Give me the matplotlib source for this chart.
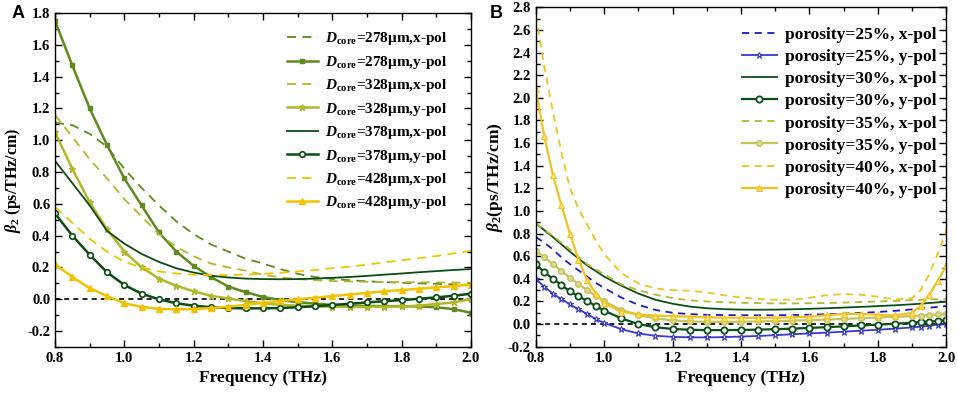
import matplotlib
matplotlib.use('Agg')
import matplotlib.pyplot as plt
from matplotlib.ticker import MultipleLocator, FormatStrFormatter

plt.rcParams['font.family'] = ['Liberation Serif', 'DejaVu Serif']
plt.rcParams['font.weight'] = 'bold'
plt.rcParams['mathtext.fontset'] = 'custom'
plt.rcParams['mathtext.rm'] = 'Liberation Serif:bold'
plt.rcParams['mathtext.it'] = 'Liberation Serif:bold:italic'
plt.rcParams['mathtext.bf'] = 'Liberation Serif:bold'

# ---- panel A data: core diameter sweep ----
freq_a = [0.8, 0.85, 0.9, 0.95, 1.0, 1.05, 1.1, 1.15, 1.2, 1.25, 1.3, 1.35, 1.4,
          1.45, 1.5, 1.55, 1.6, 1.65, 1.7, 1.75, 1.8, 1.85, 1.9, 1.95, 2.0]

d278_x = [1.11, 1.095, 1.04, 0.96, 0.82, 0.70, 0.59, 0.49, 0.41, 0.345, 0.30, 0.255, 0.225,
          0.19, 0.16, 0.14, 0.128, 0.12, 0.113, 0.108, 0.104, 0.10, 0.097, 0.094, 0.09]
d278_y = [1.75, 1.47, 1.20, 0.97, 0.76, 0.59, 0.42, 0.30, 0.21, 0.14, 0.08, 0.045, 0.015,
          -0.005, -0.018, -0.028, -0.035, -0.04, -0.042, -0.043, -0.043, -0.045, -0.05, -0.062, -0.085]
d328_x = [1.16, 1.02, 0.88, 0.76, 0.63, 0.52, 0.41, 0.33, 0.27, 0.225, 0.20, 0.18, 0.155,
          0.138, 0.127, 0.12, 0.115, 0.112, 0.11, 0.109, 0.108, 0.107, 0.106, 0.105, 0.105]
d328_y = [1.05, 0.82, 0.61, 0.44, 0.30, 0.20, 0.13, 0.085, 0.05, 0.022, 0.005, -0.012, -0.025,
          -0.035, -0.04, -0.045, -0.047, -0.048, -0.048, -0.047, -0.045, -0.04, -0.03, -0.02, 0.0]
d378_x = [0.87, 0.73, 0.59, 0.43, 0.35, 0.285, 0.235, 0.195, 0.168, 0.148, 0.137, 0.13, 0.127,
          0.126, 0.127, 0.13, 0.135, 0.14, 0.147, 0.155, 0.162, 0.17, 0.177, 0.184, 0.19]
d378_y = [0.54, 0.40, 0.28, 0.17, 0.09, 0.035, 0.0, -0.025, -0.04, -0.05, -0.055, -0.057, -0.057,
          -0.055, -0.05, -0.044, -0.036, -0.028, -0.02, -0.012, -0.005, 0.003, 0.012, 0.022, 0.035]
d428_x = [0.58, 0.48, 0.38, 0.30, 0.235, 0.20, 0.175, 0.162, 0.155, 0.152, 0.152, 0.155, 0.16,
          0.167, 0.175, 0.184, 0.195, 0.205, 0.218, 0.232, 0.245, 0.258, 0.272, 0.288, 0.305]
d428_y = [0.22, 0.14, 0.07, 0.02, -0.025, -0.048, -0.06, -0.063, -0.062, -0.055, -0.047, -0.035, -0.022,
          -0.01, 0.0, 0.01, 0.02, 0.03, 0.04, 0.05, 0.058, 0.066, 0.075, 0.083, 0.092]

# ---- panel B data: porosity sweep ----
freq_b = [0.8, 0.825, 0.85, 0.875, 0.9, 0.925, 0.95, 0.975, 1.0, 1.05, 1.1, 1.15, 1.2, 1.25,
          1.3, 1.35, 1.4, 1.45, 1.5, 1.55, 1.6, 1.65, 1.7, 1.75, 1.8, 1.85, 1.9, 1.925,
          1.95, 1.975, 2.0]

p25_x = [0.77, 0.72, 0.66, 0.59, 0.53, 0.475, 0.42, 0.365, 0.32, 0.235, 0.17, 0.125, 0.10, 0.088,
         0.082, 0.08, 0.078, 0.078, 0.078, 0.08, 0.083, 0.087, 0.092, 0.099, 0.107, 0.117, 0.13, 0.137,
         0.145, 0.152, 0.16]
p25_y = [0.40, 0.33, 0.27, 0.22, 0.175, 0.13, 0.09, 0.045, 0.01, -0.045, -0.083, -0.103, -0.113, -0.117,
         -0.118, -0.115, -0.11, -0.105, -0.098, -0.09, -0.083, -0.075, -0.067, -0.058, -0.05, -0.04, -0.03, -0.022,
         -0.015, -0.005, 0.005]
p30_x = [0.89, 0.83, 0.77, 0.705, 0.64, 0.58, 0.52, 0.47, 0.42, 0.34, 0.27, 0.215, 0.18, 0.155,
         0.14, 0.132, 0.128, 0.127, 0.128, 0.131, 0.135, 0.14, 0.146, 0.152, 0.159, 0.166, 0.175, 0.18,
         0.186, 0.192, 0.198]
p30_y = [0.53, 0.46, 0.40, 0.345, 0.29, 0.245, 0.205, 0.16, 0.12, 0.05, 0.0, -0.028, -0.043, -0.05,
         -0.053, -0.053, -0.052, -0.049, -0.045, -0.04, -0.034, -0.027, -0.02, -0.012, -0.005, 0.003, 0.012, 0.017,
         0.022, 0.027, 0.033]
p35_x = [0.89, 0.835, 0.78, 0.72, 0.66, 0.595, 0.53, 0.485, 0.44, 0.35, 0.30, 0.26, 0.23, 0.21,
         0.20, 0.193, 0.188, 0.185, 0.183, 0.183, 0.184, 0.186, 0.19, 0.195, 0.20, 0.205, 0.212, 0.215,
         0.218, 0.221, 0.225]
p35_y = [0.65, 0.59, 0.53, 0.47, 0.41, 0.355, 0.30, 0.25, 0.20, 0.125, 0.08, 0.05, 0.032, 0.024,
         0.02, 0.02, 0.021, 0.023, 0.026, 0.03, 0.035, 0.04, 0.046, 0.052, 0.058, 0.064, 0.071, 0.075,
         0.08, 0.085, 0.09]
p40_x = [2.73, 2.28, 1.88, 1.52, 1.20, 1.02, 0.88, 0.74, 0.62, 0.45, 0.36, 0.315, 0.30, 0.295,
         0.28, 0.255, 0.235, 0.222, 0.215, 0.217, 0.232, 0.255, 0.265, 0.26, 0.242, 0.218, 0.23, 0.30,
         0.44, 0.62, 0.83]
p40_y = [2.08, 1.66, 1.32, 1.05, 0.80, 0.57, 0.39, 0.27, 0.185, 0.11, 0.085, 0.075, 0.07, 0.065,
         0.06, 0.057, 0.055, 0.055, 0.056, 0.06, 0.066, 0.078, 0.09, 0.09, 0.082, 0.076, 0.10, 0.16,
         0.26, 0.38, 0.52]

fig = plt.figure(figsize=(9.57, 3.94), dpi=100)
ax1 = fig.add_axes([0.0575, 0.1193, 0.4345, 0.8477])
ax2 = fig.add_axes([0.5598, 0.12, 0.429, 0.8615])

c278, c328, c378, c428 = '#5f8a1f', '#b3b82b', '#0b4d12', '#f2c200'
ax1.axhline(0, color='black', ls='--', lw=1.2, dashes=(3, 2.5), zorder=1)
ax1.plot(freq_a, d278_x, color=c278, ls='--', lw=1.3, dashes=(5, 3.5),
         label=r'$\mathit{D}_{\rm core}$=278μm,x-pol')
ax1.plot(freq_a, d278_y, color=c278, lw=1.8, marker='s', ms=3.5,
         label=r'$\mathit{D}_{\rm core}$=278μm,y-pol')
ax1.plot(freq_a, d328_x, color=c328, ls='--', lw=1.3, dashes=(5, 3.5),
         label=r'$\mathit{D}_{\rm core}$=328μm,x-pol')
ax1.plot(freq_a, d328_y, color=c328, lw=1.8, marker='*', ms=4.5,
         label=r'$\mathit{D}_{\rm core}$=328μm,y-pol')
ax1.plot(freq_a, d378_x, color=c378, lw=1.3,
         label=r'$\mathit{D}_{\rm core}$=378μm,x-pol')
ax1.plot(freq_a, d378_y, color=c378, lw=1.8, marker='o', ms=4, mfc='white', mew=1.2,
         label=r'$\mathit{D}_{\rm core}$=378μm,y-pol')
ax1.plot(freq_a, d428_x, color=c428, ls='--', lw=1.3, dashes=(5, 3.5),
         label=r'$\mathit{D}_{\rm core}$=428μm,x-pol')
ax1.plot(freq_a, d428_y, color=c428, lw=1.8, marker='^', ms=4,
         label=r'$\mathit{D}_{\rm core}$=428μm,y-pol')
ax1.set_xlim(0.8, 2.0)
ax1.set_ylim(-0.3, 1.8)
ax1.yaxis.set_major_locator(MultipleLocator(0.2))
ax1.yaxis.set_minor_locator(MultipleLocator(0.1))
ax1.set_ylabel(r'$\beta_2$ (ps/THz/cm)', fontsize=11.5, fontweight='bold', labelpad=3)
ax1.legend(loc='upper right', frameon=False, fontsize=11, handlelength=2.0,
           handletextpad=0.5, labelspacing=0.42, borderaxespad=0,
           bbox_to_anchor=(0.959, 0.966))

cb, cg, co, cy = '#1c1cc4', '#0b5016', '#b5b830', '#f2c21f'
ax2.axhline(0, color='black', ls='--', lw=1.2, dashes=(3, 2.5), zorder=1)
ax2.plot(freq_b, p25_x, color=cb, ls='--', lw=1.3, dashes=(4, 3),
         label='porosity=25%, x-pol')
ax2.plot(freq_b, p25_y, color='#3a3ad0', lw=1.3, marker='*', ms=5, mfc='white', mew=0.8,
         label='porosity=25%, y-pol')
ax2.plot(freq_b, p30_x, color=cg, lw=1.3, label='porosity=30%, x-pol')
ax2.plot(freq_b, p30_y, color=cg, lw=1.6, marker='o', ms=4.5, mfc='white', mew=1.3,
         label='porosity=30%, y-pol')
ax2.plot(freq_b, p35_x, color=co, ls='--', lw=1.3, dashes=(4, 3),
         label='porosity=35%, x-pol')
ax2.plot(freq_b, p35_y, color='#c4c45c', lw=1.6, marker='o', ms=4, mfc='#dada90', mew=1,
         label='porosity=35%, y-pol')
ax2.plot(freq_b, p40_x, color=cy, ls='--', lw=1.3, dashes=(4, 3),
         label='porosity=40%, x-pol')
ax2.plot(freq_b, p40_y, color=cy, lw=1.6, marker='^', ms=4.5, mfc='#f8e27a', mew=0.8,
         label='porosity=40%, y-pol')
ax2.set_xlim(0.8, 2.0)
ax2.set_ylim(-0.2, 2.8)
ax2.yaxis.set_major_locator(MultipleLocator(0.2))
ax2.yaxis.set_minor_locator(MultipleLocator(0.1))
ax2.set_ylabel(r'$\beta_2$(ps/THz/cm)', fontsize=12.5, fontweight='bold', labelpad=2)
ax2.legend(loc='upper right', frameon=False, fontsize=12.5, handlelength=2.0,
           handletextpad=0.5, labelspacing=0.34, borderaxespad=0,
           bbox_to_anchor=(0.994, 0.962))

for ax in (ax1, ax2):
    ax.xaxis.set_major_locator(MultipleLocator(0.2))
    ax.xaxis.set_minor_locator(MultipleLocator(0.1))
    ax.xaxis.set_major_formatter(FormatStrFormatter('%.1f'))
    ax.yaxis.set_major_formatter(FormatStrFormatter('%.1f'))
    ax.set_xlabel('Frequency (THz)', fontsize=12.5, fontweight='bold', labelpad=4)
    ax.tick_params(which='both', direction='in', top=True, right=True, labelsize=10.5, width=1)
    ax.tick_params(which='major', length=5)
    ax.tick_params(which='minor', length=3)
    for s in ax.spines.values():
        s.set_linewidth(1)

fig.text(0.012, 0.955, 'A', fontsize=13, fontweight='bold', family='Liberation Sans')
fig.text(0.512, 0.955, 'B', fontsize=13, fontweight='bold', family='Liberation Sans')

fig.savefig('out.png', dpi=100)
